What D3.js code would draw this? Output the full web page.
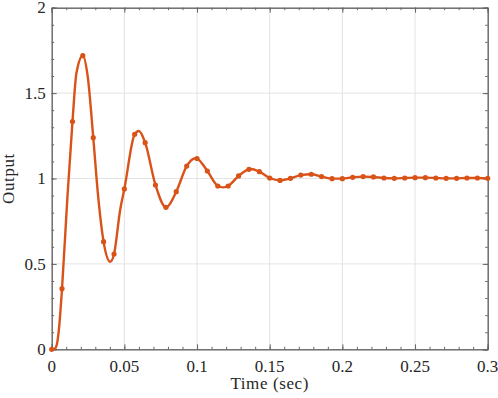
<!DOCTYPE html>
<html>
<head>
<meta charset="utf-8">
<script src="https://cdn.jsdelivr.net/npm/d3@7"></script>
<style>
  body { margin: 0; background: #fff; }
</style>
</head>
<body>
<div id="chart"></div>
<script>
  const width = 498;
  const height = 398;

  // sampled points shown with markers
  const markerTime = [0, 0.0071, 0.0143, 0.0214, 0.0286, 0.0357, 0.0429, 0.05, 0.0571, 0.0643,
    0.0714, 0.0786, 0.0857, 0.0929, 0.1, 0.1071, 0.1143, 0.1214, 0.1286, 0.1357,
    0.1429, 0.15, 0.1571, 0.1643, 0.1714, 0.1786, 0.1857, 0.1929, 0.2, 0.2071,
    0.2143, 0.2214, 0.2286, 0.2357, 0.2429, 0.25, 0.2571, 0.2643, 0.2714, 0.2786,
    0.2857, 0.2929, 0.3];
  const markerOutput = [0, 0.355, 1.333, 1.719, 1.239, 0.630, 0.558, 0.939, 1.259, 1.210,
    0.962, 0.831, 0.923, 1.073, 1.117, 1.044, 0.956, 0.956, 1.015, 1.054,
    1.040, 1.003, 0.989, 1.001, 1.020, 1.025, 1.011, 0.999, 0.999, 1.007,
    1.011, 1.009, 1.003, 1.001, 1.003, 1.005, 1.005, 1.003, 1.001, 1.001,
    1.003, 1.003, 1.001];

  // extra points of the continuous response between samples
  const curveTime = [0.0023, 0.0037, 0.005, 0.0108, 0.017, 0.0248, 0.0318, 0.0403, 0.0471, 0.06, 0.099, 0.118, 0.137];
  const curveOutput = [0.005, 0.035, 0.12, 0.89, 1.616, 1.596, 0.91, 0.513, 0.816, 1.278, 1.119, 0.948, 1.056];

  const xTicks = [0, 0.05, 0.1, 0.15, 0.2, 0.25, 0.3];
  const xTickLabels = ["0", "0.05", "0.1", "0.15", "0.2", "0.25", "0.3"];
  const yTicks = [0, 0.5, 1, 1.5, 2];
  const yTickLabels = ["0", "0.5", "1", "1.5", "2"];

  const margin = {top: 7.7, right: 10.3, bottom: 48.7, left: 51.7};
  const serif = "Liberation Serif";

  const svg = d3.select("#chart")
    .append("svg")
    .attr("width", width)
    .attr("height", height);

  const x = d3.scaleLinear().domain([0, 0.3]).range([margin.left, width - margin.right]);
  const y = d3.scaleLinear().domain([0, 2]).range([height - margin.bottom, margin.top]);

  const xMinor = d3.range(0, 0.3001, 0.01);
  const yMinor = d3.range(0, 2.001, 0.1);

  // grid
  svg.append("g")
    .selectAll("line")
    .data(xTicks.slice(1, -1))
    .join("line")
    .attr("x1", d => x(d)).attr("x2", d => x(d))
    .attr("y1", y(0)).attr("y2", y(2))
    .attr("stroke", "#e3e3e3");
  svg.append("g")
    .selectAll("line")
    .data(yTicks.slice(1, -1))
    .join("line")
    .attr("x1", x(0)).attr("x2", x(0.3))
    .attr("y1", d => y(d)).attr("y2", d => y(d))
    .attr("stroke", "#e3e3e3");

  // axes, ticks pointing inwards, no labels from the axis itself
  function styleAxis(g) {
    g.select(".domain").attr("stroke", "#666");
    g.selectAll(".tick line").attr("stroke", "#666");
  }

  const axes = [
    [d3.axisBottom(x), xTicks, xMinor, `translate(0,${y(0)})`],
    [d3.axisTop(x), xTicks, xMinor, `translate(0,${y(2)})`],
    [d3.axisLeft(y), yTicks, yMinor, `translate(${x(0)},0)`],
    [d3.axisRight(y), yTicks, yMinor, `translate(${x(0.3)},0)`]
  ];
  axes.forEach(([ax, major, minor, tr]) => {
    svg.append("g").attr("transform", tr)
      .call(ax.tickValues(minor).tickSize(-2.5).tickFormat(""))
      .call(styleAxis);
    svg.append("g").attr("transform", tr)
      .call(ax.tickValues(major).tickSize(-5).tickFormat(""))
      .call(styleAxis);
  });

  // tick labels
  svg.append("g")
    .selectAll("text")
    .data(xTicks)
    .join("text")
    .attr("x", d => x(d))
    .attr("y", y(0) + 22.5)
    .attr("text-anchor", "middle")
    .attr("font-family", serif)
    .attr("font-size", 17)
    .attr("fill", "#262626")
    .text((d, i) => xTickLabels[i]);

  svg.append("g")
    .selectAll("text")
    .data(yTicks)
    .join("text")
    .attr("x", x(0) - 6)
    .attr("y", d => y(d))
    .attr("dy", "0.33em")
    .attr("text-anchor", "end")
    .attr("font-family", serif)
    .attr("font-size", 17)
    .attr("fill", "#262626")
    .text((d, i) => yTickLabels[i]);

  // response curve
  const linePoints = markerTime.map((t, i) => [t, markerOutput[i]])
    .concat(curveTime.map((t, i) => [t, curveOutput[i]]))
    .sort((a, b) => a[0] - b[0]);

  const line = d3.line()
    .x(d => x(d[0]))
    .y(d => y(d[1]))
    .curve(d3.curveMonotoneX);

  svg.append("path")
    .datum(linePoints)
    .attr("d", line)
    .attr("fill", "none")
    .attr("stroke", "#D95319")
    .attr("stroke-width", 2.4)
    .attr("stroke-linejoin", "round");

  svg.append("g")
    .selectAll("circle")
    .data(markerTime.map((t, i) => [t, markerOutput[i]]))
    .join("circle")
    .attr("cx", d => x(d[0]))
    .attr("cy", d => y(d[1]))
    .attr("r", 2.6)
    .attr("fill", "#D95319");

  // axis titles
  svg.append("text")
    .attr("x", (x(0) + x(0.3)) / 2)
    .attr("y", 389)
    .attr("text-anchor", "middle")
    .attr("font-family", serif)
    .attr("font-size", 17)
    .attr("letter-spacing", 0.6)
    .attr("fill", "#262626")
    .text("Time (sec)");

  svg.append("text")
    .attr("transform", `translate(14,${(y(0) + y(2)) / 2}) rotate(-90)`)
    .attr("text-anchor", "middle")
    .attr("font-family", serif)
    .attr("font-size", 17)
    .attr("letter-spacing", 0.6)
    .attr("fill", "#262626")
    .text("Output");
</script>
</body>
</html>
